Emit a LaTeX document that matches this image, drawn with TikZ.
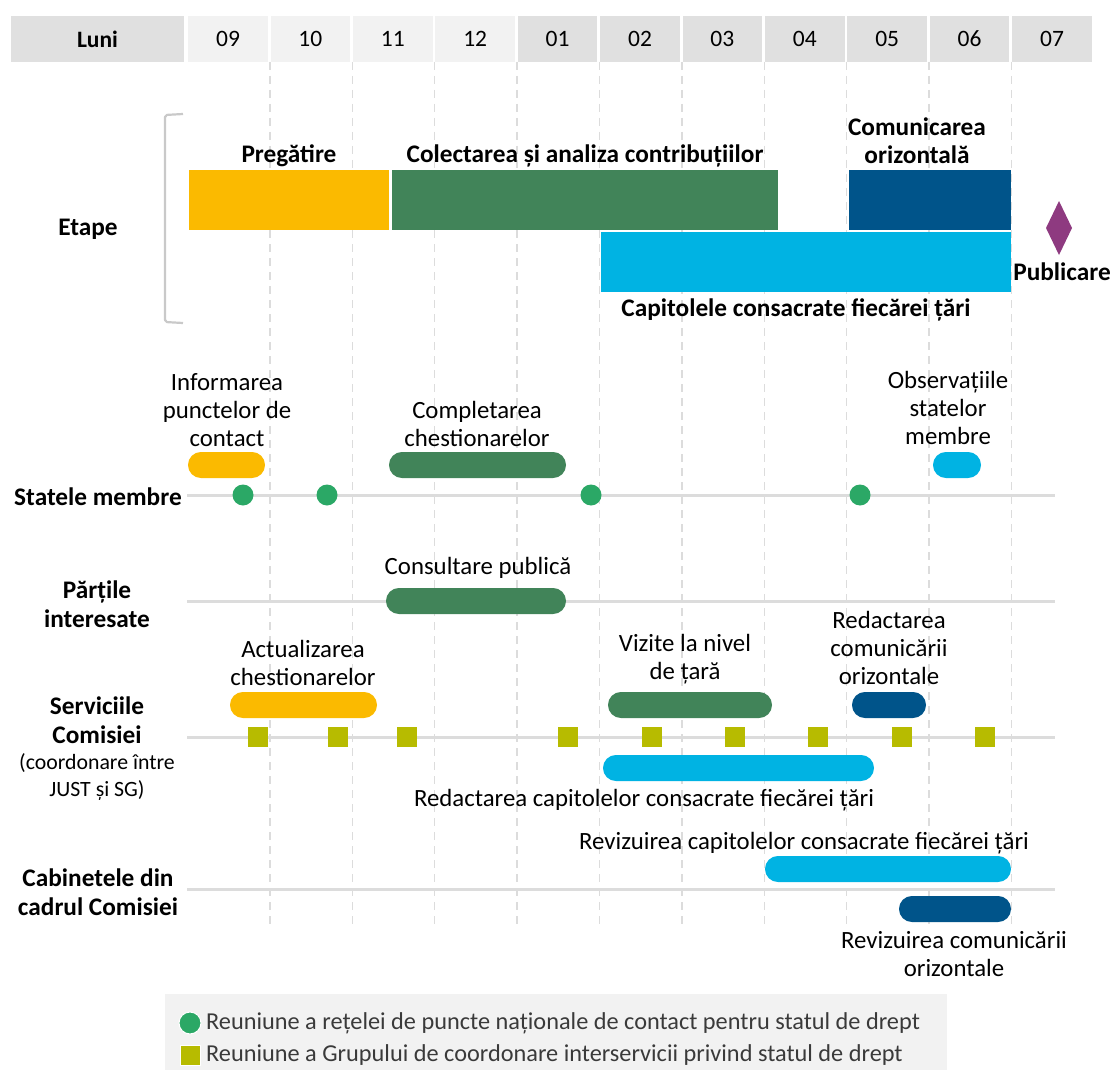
\documentclass[tikz,border=0pt]{standalone}
\usepackage{fontspec}
\setmainfont{Carlito}
\definecolor{barsun}{HTML}{FBBA00}
\definecolor{barleaf}{HTML}{418459}
\definecolor{barnavy}{HTML}{00548A}
\definecolor{barsky}{HTML}{00B3E3}
\definecolor{pubplum}{HTML}{8E3A80}
\definecolor{dotgreen}{HTML}{2BA866}
\definecolor{sqolive}{HTML}{B7BB00}
\definecolor{cellgray}{HTML}{E0E0E0}
\definecolor{cellpale}{HTML}{F2F2F2}
\definecolor{rowgray}{HTML}{DCDCDC}
\definecolor{legendtext}{HTML}{3A3A3A}
\tikzset{
  headcell/.style={minimum height=46pt,inner sep=0pt,font=\fontsize{23.5}{28}\selectfont},
  monthgrid/.style={rowgray,line width=1.3pt,dash pattern=on 8pt off 6pt},
  rowline/.style={rowgray,line width=3pt},
  taskbar/.style={rounded corners=12.9pt},
  rowlabel/.style={align=center,inner sep=0pt,font=\bfseries\fontsize{25.3}{28.5}\selectfont},
  phaselabel/.style={align=center,inner sep=0pt,font=\bfseries\fontsize{25.3}{28}\selectfont},
  tasklabel/.style={align=center,inner sep=0pt,font=\fontsize{24.8}{28}\selectfont},
  meetdot/.style={fill=dotgreen},
  meetsq/.style={fill=sqolive},
  every picture/.style={line join=round}
}
\begin{document}
\begin{tikzpicture}[x=1pt,y=-1pt]
  \useasboundingbox (0,0) rectangle (1114,1070);

  % month header
  \node[headcell,fill=cellgray,minimum width=173pt] (luni) at (97.5,39) {\bfseries Luni};
  \foreach \m/\c [count=\i from 0] in {09/cellpale,10/cellpale,11/cellpale,12/cellpale,
      01/cellgray,02/cellgray,03/cellgray,04/cellgray,05/cellgray,06/cellgray,07/cellgray}
    \node[headcell,fill=\c,minimum width=79.5pt] (m\i) at ({228+82.4*\i},39) {\m};

  % month boundaries
  \foreach \i in {1,...,10}
    \draw[monthgrid] ({187.5+82.4*\i},62) -- ({187.5+82.4*\i},927);

  % lanes
  \foreach \y in {495,601,737,889}
    \draw[rowline] (187,\y) -- (1055,\y);

  % phases
  \draw[rowgray!80!gray,line width=2.2pt,rounded corners=2pt] (183,114) -- (165,115) -- (165,322) -- (183,323);
  \node[rowlabel] (etape) at (88,229) {Etape};
  \fill[barsun] (189,170) rectangle (389,230);
  \fill[barleaf] (392,170) rectangle (778,230);
  \fill[barnavy] (849,170) rectangle (1011,230);
  \fill[barsky] (601,232) rectangle (1011,292);
  \fill[pubplum] (1059,201) -- (1072,228) -- (1059,255) -- (1046,228) -- cycle;
  \node[phaselabel] (pregatire) at (289,156) {Pregătire};
  \node[phaselabel] (colectare) at (585,156) {Colectarea și analiza contribuțiilor};
  \node[phaselabel] (comunicare) at (917,141) {Comunicarea\\orizontală};
  \node[phaselabel] (capitole) at (796,310) {Capitolele consacrate fiecărei țări};
  \node[phaselabel] (publicare) at (1062,272) {Publicare};

  % statele membre
  \node[rowlabel] (statele) at (98,497) {Statele membre};
  \fill[barsun,taskbar] (188,452) rectangle (265,478);
  \fill[barleaf,taskbar] (389,452) rectangle (566,478);
  \fill[barsky,taskbar] (933,452) rectangle (981,478);
  \foreach \x in {243,327,591,860}
    \fill[meetdot] (\x,495) circle (10.5pt);
  \node[tasklabel] (informare) at (227,410) {Informarea\\punctelor de\\contact};
  \node[tasklabel] (completare) at (477,424) {Completarea\\chestionarelor};
  \node[tasklabel] (observatii) at (948,408) {Observațiile\\statelor\\membre};

  % partile interesate
  \node[rowlabel] (parti) at (97,604) {Părțile\\interesate};
  \fill[barleaf,taskbar] (386,588) rectangle (566,614);
  \node[tasklabel] (consultare) at (478,568) {Consultare publică};

  % serviciile comisiei
  \node[rowlabel] (servicii) at (97,720) {Serviciile\\Comisiei};
  \node[tasklabel,font=\fontsize{21.8}{27}\selectfont] (coordonare) at (97,777) {(coordonare între\\JUST și SG)};
  \fill[barsun,taskbar] (230,692) rectangle (377,718);
  \fill[barleaf,taskbar] (608,692) rectangle (772,718);
  \fill[barnavy,taskbar] (852,692) rectangle (926,718);
  \fill[barsky,taskbar] (603,755) rectangle (874,781);
  \foreach \x in {258,338,407,568,652,735,818,902,985}
    \fill[meetsq] (\x-10,727) rectangle (\x+10,747);
  \node[tasklabel] (actualizare) at (303,663) {Actualizarea\\chestionarelor};
  \node[tasklabel] (vizite) at (685,659) {Vizite la nivel\\de țară};
  \node[tasklabel] (redcom) at (889,648) {Redactarea\\comunicării\\orizontale};
  \node[tasklabel] (redcap) at (644,800) {Redactarea capitolelor consacrate fiecărei țări};

  % cabinetele
  \node[rowlabel] (cabinete) at (98,892) {Cabinetele din\\cadrul Comisiei};
  \fill[barsky,taskbar] (765,856) rectangle (1011,882);
  \fill[barnavy,taskbar] (899,896) rectangle (1011,922);
  \node[tasklabel] (revcap) at (804,843) {Revizuirea capitolelor consacrate fiecărei țări};
  \node[tasklabel] (revcom) at (954,954) {Revizuirea comunicării\\orizontale};

  % legend
  \fill[cellpale] (165,994) rectangle (947,1070);
  \filldraw[meetdot,draw=white,line width=1pt] (190,1023) circle (11pt);
  \filldraw[meetsq,draw=white,line width=1pt] (180,1045) rectangle (200,1065);
  \node[tasklabel,anchor=west,text=legendtext,font=\fontsize{24.3}{28}\selectfont] (legdot) at (206,1023) {Reuniune a rețelei de puncte naționale de contact pentru statul de drept};
  \node[tasklabel,anchor=west,text=legendtext,font=\fontsize{24.3}{28}\selectfont] (legsq) at (206,1055) {Reuniune a Grupului de coordonare interservicii privind statul de drept};
\end{tikzpicture}
\end{document}
